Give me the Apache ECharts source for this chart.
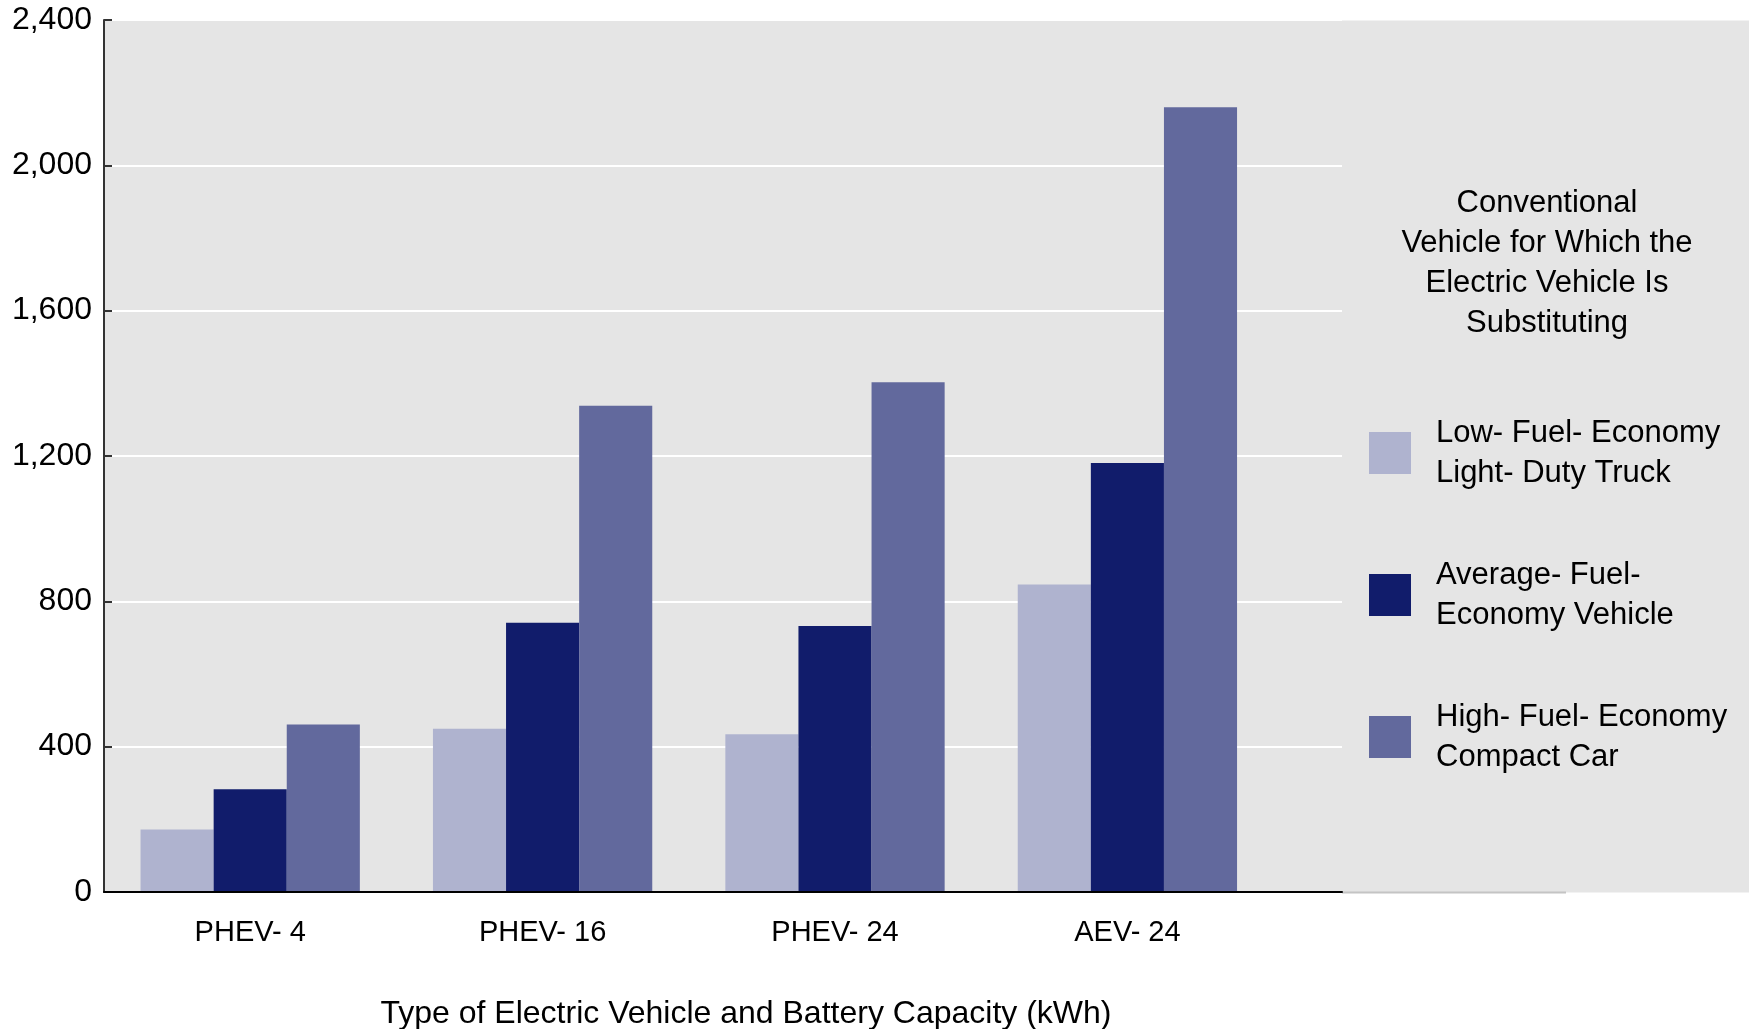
<!DOCTYPE html>
<html>
<head>
<meta charset="utf-8">
<script src="https://cdn.jsdelivr.net/npm/echarts@6/dist/echarts.min.js"></script>
<style>
html,body{margin:0;padding:0;background:#fff;}
#chart{width:1752px;height:1029px;}
</style>
</head>
<body>
<div id="chart"></div>
<script>
// ---- data ----
var categories = ['PHEV- 4', 'PHEV- 16', 'PHEV- 24', 'AEV- 24'];
var seriesNames = [
  'Low- Fuel- Economy\nLight- Duty Truck',
  'Average- Fuel-\nEconomy Vehicle',
  'High- Fuel- Economy\nCompact Car'
];
var lowFuelTruck = [172, 449, 434, 846];
var avgFuelVehicle = [283, 741, 732, 1181];
var highFuelCompact = [461, 1338, 1403, 2160];
var yTickValues = [0, 400, 800, 1200, 1600, 2000, 2400];
var yTickLabels = ['0', '400', '800', '1,200', '1,600', '2,000', '2,400'];
var legendTitle = 'Conventional\nVehicle for Which the\nElectric Vehicle Is\nSubstituting';
var xAxisTitle = 'Type of Electric Vehicle and Battery Capacity (kWh)';

var colors = ['#afb3cf', '#111c6b', '#62699d'];
var FONT = '"Liberation Sans", Arial, sans-serif';

var chart = echarts.init(document.getElementById('chart'), null, {renderer: 'canvas'});

var seriesData = [lowFuelTruck, avgFuelVehicle, highFuelCompact];
var series = seriesNames.map(function (n, i) {
  return {
    name: n,
    type: 'bar',
    xAxisIndex: 1,
    yAxisIndex: 1,
    data: seriesData[i],
    barGap: '0%',
    barCategoryGap: '25%',
    itemStyle: {color: colors[i]},
    z: 2
  };
});

var option = {
  animation: false,
  backgroundColor: '#ffffff',
  color: colors,
  textStyle: {fontFamily: FONT},
  graphic: [
    {type: 'rect', z: -1, silent: true,
     shape: {x: 104, y: 20.5, width: 1645, height: 872},
     style: {fill: '#e5e5e5'}},
    {type: 'line', z: 1, silent: true,
     shape: {x1: 1342, y1: 892.5, x2: 1566, y2: 892.5},
     style: {stroke: '#c4c4c4', lineWidth: 2}}
  ],
  title: [
    {text: legendTitle, left: 1547, top: 183, textAlign: 'center', textVerticalAlign: 'top', padding: 0,
     textStyle: {fontFamily: FONT, fontSize: 31, fontWeight: 'normal', color: '#000', lineHeight: 40}},
    {text: xAxisTitle, left: 746, top: 996, textAlign: 'center', textVerticalAlign: 'top', padding: 0,
     textStyle: {fontFamily: FONT, fontSize: 32, fontWeight: 'normal', color: '#000', lineHeight: 36}}
  ],
  legend: {
    orient: 'vertical',
    left: 1369,
    top: 413,
    padding: 0,
    itemWidth: 42,
    itemHeight: 42,
    itemGap: 62,
    icon: 'rect',
    data: seriesNames,
    textStyle: {fontFamily: FONT, fontSize: 31, color: '#000', lineHeight: 40, padding: [0, 0, 0, 20]}
  },
  grid: [
    {left: 104, right: 410, top: 20, bottom: 137, containLabel: false},
    {left: 104, right: 478.4, top: 20, bottom: 137, containLabel: false}
  ],
  xAxis: [
    {gridIndex: 0, type: 'category', data: [''],
     axisLine: {show: true, lineStyle: {color: '#000', width: 2}},
     axisTick: {show: false}, axisLabel: {show: false}, splitLine: {show: false}, z: 3},
    {gridIndex: 1, type: 'category', data: categories,
     axisLine: {show: false}, axisTick: {show: false},
     axisLabel: {show: true, margin: 26, fontFamily: FONT, fontSize: 29, color: '#000'},
     splitLine: {show: false}}
  ],
  yAxis: [
    {gridIndex: 0, type: 'value', min: 0, max: 2400, interval: 400,
     axisLine: {show: true, lineStyle: {color: '#333', width: 2}},
     axisTick: {show: true, inside: true, length: 8, lineStyle: {color: '#333', width: 2}},
     axisLabel: {show: true, margin: 12, fontFamily: FONT, fontSize: 32, color: '#000',
       formatter: function (v) { var i = yTickValues.indexOf(v); return i >= 0 ? yTickLabels[i] : ''; }},
     splitLine: {show: true, lineStyle: {color: '#ffffff', width: 2}}},
    {gridIndex: 1, type: 'value', min: 0, max: 2400, interval: 400, show: false,
     splitLine: {show: false}}
  ],
  series: series
};
chart.setOption(option);
</script>
</body>
</html>
